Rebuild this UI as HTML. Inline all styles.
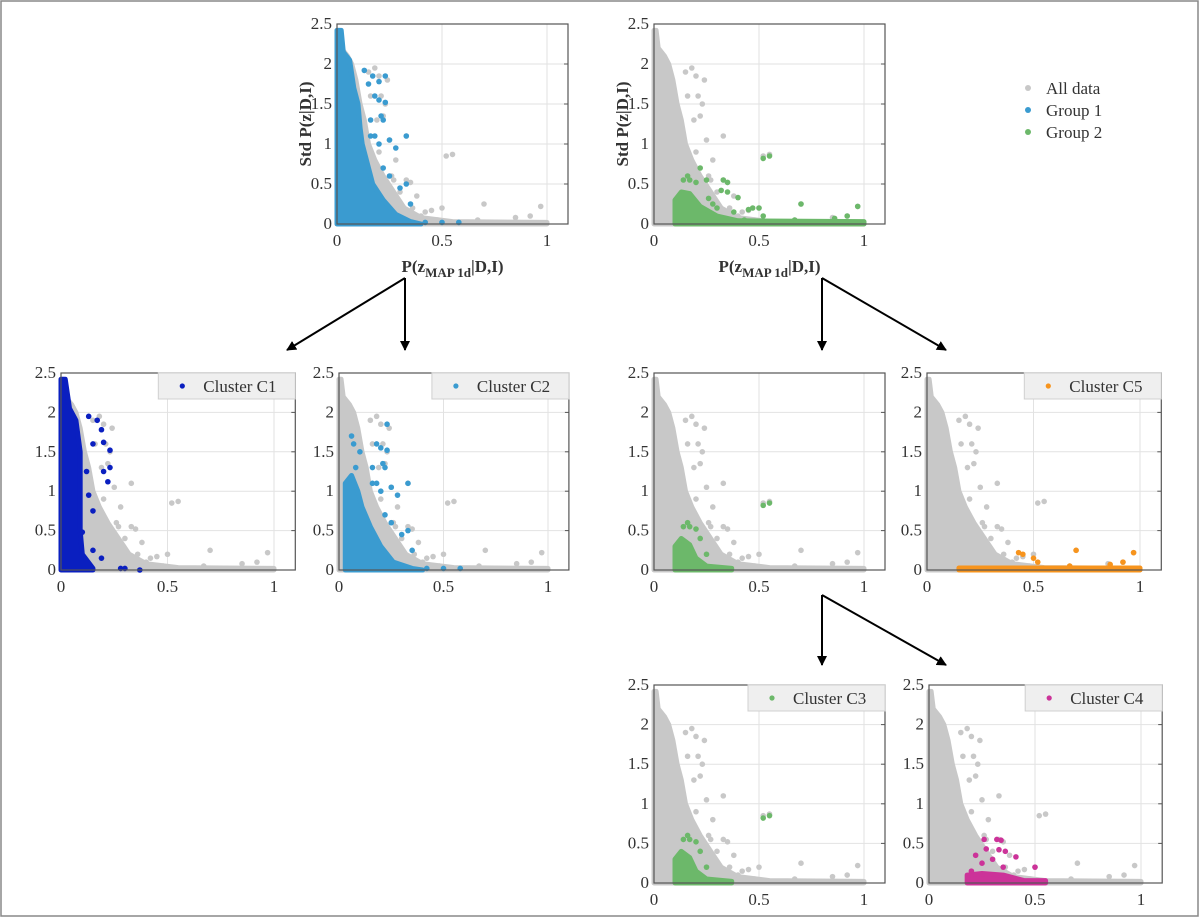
<!DOCTYPE html>
<html><head><meta charset="utf-8"><style>
body{margin:0;background:#fff}
svg{display:block}
text{font-family:"Liberation Serif",serif;fill:#333}
</style></head><body>
<svg id="fig" width="1200" height="918" viewBox="0 0 1200 918">
<rect x="1" y="1" width="1197" height="915" fill="#fff" stroke="#888" stroke-width="1.5"/>
<defs><marker id="ah" markerWidth="10" markerHeight="10" refX="9" refY="5" orient="auto" markerUnits="userSpaceOnUse"><path d="M0,0 L10,5 L0,10 Z" fill="#000"/></marker></defs>
<g stroke="#000" stroke-width="2" marker-end="url(#ah)">
<line x1="405" y1="278" x2="287" y2="350"/>
<line x1="405" y1="278" x2="405" y2="350"/>
<line x1="822" y1="278" x2="822" y2="350"/>
<line x1="822" y1="278" x2="946" y2="350"/>
<line x1="822" y1="595" x2="822" y2="665"/>
<line x1="822" y1="595" x2="946" y2="665"/>
</g>
<g>
<circle cx="1028" cy="88" r="3" fill="#c8c8c8"/><text x="1046" y="94" font-size="17">All data</text>
<circle cx="1028" cy="110" r="3" fill="#3a9bd0"/><text x="1046" y="116" font-size="17">Group 1</text>
<circle cx="1028" cy="132" r="3" fill="#6cb86a"/><text x="1046" y="138" font-size="17">Group 2</text>
</g>
</svg>
<script>
const xTicks=[0,0.5,1];
const yTicks=[0,0.5,1,1.5,2,2.5];
const xTickLabels=["0","0.5","1"];
const yTickLabels=["0","0.5","1","1.5","2","2.5"];
const allEnv=[[0,0],[0,2.42],[0.01,2.42],[0.02,2.2],[0.05,2.1],[0.07,2.0],[0.09,1.8],[0.11,1.5],[0.13,1.3],[0.15,1.0],[0.18,0.8],[0.22,0.6],[0.27,0.4],[0.32,0.2],[0.4,0.08],[0.55,0.03],[1,0.02],[1,0],[0,0]];
const allPts=[[0.52,0.85],[0.55,0.87],[0.7,0.25],[0.97,0.22],[0.85,0.08],[0.92,0.1],[0.67,0.05],[0.5,0.2],[0.45,0.17],[0.42,0.15],[0.36,0.2],[0.33,0.55],[0.35,0.52],[0.3,0.4],[0.27,0.55],[0.22,1.35],[0.23,1.5],[0.2,1.85],[0.18,1.95],[0.21,1.6],[0.25,1.05],[0.28,0.8],[0.33,1.1],[0.15,1.9],[0.24,1.8],[0.16,1.6],[0.19,1.3],[0.2,0.9],[0.26,0.6],[0.38,0.35],[0.4,0.1],[0.48,0.05],[0.3,0.25]];
const g1Env=[[0,0],[0,2.42],[0.02,2.42],[0.03,2.15],[0.06,2.05],[0.08,1.7],[0.1,1.5],[0.11,1.2],[0.12,1.0],[0.15,0.7],[0.17,0.5],[0.22,0.3],[0.28,0.12],[0.35,0.03],[0.4,0],[0,0]];
const g1Pts=[[0.13,1.92],[0.17,1.85],[0.2,1.78],[0.15,1.75],[0.23,1.85],[0.2,1.55],[0.23,1.52],[0.18,1.6],[0.21,1.35],[0.22,1.3],[0.16,1.3],[0.16,1.1],[0.18,1.1],[0.2,1.0],[0.25,1.05],[0.28,0.95],[0.33,1.1],[0.22,0.7],[0.25,0.6],[0.3,0.45],[0.33,0.5],[0.35,0.25],[0.42,0.02],[0.5,0.02],[0.58,0.02]];
const g2Env=[[0.1,0],[0.1,0.3],[0.13,0.4],[0.17,0.38],[0.22,0.22],[0.3,0.1],[0.4,0.04],[1,0.03],[1,0],[0.1,0]];
const g2Pts=[[0.52,0.82],[0.55,0.85],[0.22,0.7],[0.14,0.55],[0.16,0.6],[0.17,0.55],[0.2,0.52],[0.25,0.55],[0.33,0.55],[0.35,0.52],[0.32,0.42],[0.35,0.4],[0.4,0.33],[0.47,0.2],[0.45,0.18],[0.5,0.2],[0.52,0.1],[0.7,0.25],[0.97,0.22],[0.92,0.1],[0.86,0.07],[0.67,0.05],[0.3,0.2],[0.28,0.25],[0.26,0.32],[0.38,0.15],[0.43,0.05]];
const c1Env=[[0,0],[0,2.42],[0.02,2.42],[0.04,2.05],[0.07,1.9],[0.09,1.5],[0.09,0.5],[0.1,0.2],[0.15,0.02],[0.15,0],[0,0]];
const c1Pts=[[0.13,1.95],[0.17,1.9],[0.19,1.78],[0.15,1.6],[0.2,1.62],[0.23,1.52],[0.12,1.25],[0.2,1.25],[0.23,1.3],[0.22,1.12],[0.13,0.95],[0.15,0.75],[0.1,0.48],[0.15,0.25],[0.19,0.15],[0.28,0.02],[0.3,0.02],[0.37,0.0]];
const c2Env=[[0.03,0],[0.03,1.1],[0.06,1.2],[0.09,1.0],[0.11,0.8],[0.15,0.55],[0.2,0.3],[0.26,0.1],[0.35,0.02],[0.4,0],[0.03,0]];
const c2Pts=[[0.06,1.7],[0.07,1.6],[0.1,1.5],[0.08,1.3],[0.23,1.85],[0.2,1.55],[0.23,1.52],[0.18,1.6],[0.21,1.35],[0.22,1.3],[0.16,1.3],[0.16,1.1],[0.18,1.1],[0.2,1.0],[0.25,1.05],[0.28,0.95],[0.33,1.1],[0.22,0.7],[0.25,0.6],[0.3,0.45],[0.33,0.5],[0.35,0.25],[0.42,0.02],[0.5,0.02],[0.58,0.02]];
const c3Env=[[0.1,0],[0.1,0.3],[0.13,0.4],[0.17,0.32],[0.2,0.15],[0.25,0.05],[0.37,0.02],[0.37,0],[0.1,0]];
const c3Pts=[[0.52,0.82],[0.55,0.85],[0.14,0.55],[0.16,0.6],[0.17,0.55],[0.2,0.52],[0.22,0.4],[0.25,0.2]];
const c4Env=[[0.18,0],[0.18,0.1],[0.25,0.12],[0.35,0.1],[0.45,0.03],[0.55,0.03],[0.55,0],[0.18,0]];
const c4Pts=[[0.26,0.55],[0.32,0.55],[0.34,0.54],[0.33,0.42],[0.36,0.4],[0.27,0.43],[0.22,0.35],[0.41,0.33],[0.5,0.2],[0.3,0.3],[0.25,0.25],[0.35,0.2],[0.2,0.15]];
const c5Env=[[0.15,0],[0.15,0.025],[1,0.025],[1,0],[0.15,0]];
const c5Pts=[[0.45,0.2],[0.43,0.22],[0.52,0.1],[0.7,0.25],[0.97,0.22],[0.92,0.1],[0.86,0.07],[0.67,0.05],[0.5,0.15]];

const NS="http://www.w3.org/2000/svg";
const svg=document.getElementById('fig');
function mk(tag,attrs,parent){const e=document.createElementNS(NS,tag);for(const k in attrs)e.setAttribute(k,attrs[k]);parent.appendChild(e);return e;}

function panel(name,x0,x1,yb,yt,layers,legend,labels){
  const g=mk('g',{},svg);
  
  
  const sx=v=>x0+v*(x1-x0);
  const sy=v=>yb-v/2.5*(yb-yt);
  const right=sx(1.1);
  for(const t of xTicks){const l=mk('line',{x1:sx(t),x2:sx(t),y1:yt,y2:yb,stroke:'#e2e2e2','stroke-width':1},g);}
  for(const t of yTicks){const l=mk('line',{x1:x0,x2:right,y1:sy(t),y2:sy(t),stroke:'#e2e2e2','stroke-width':1},g);}
  for(const L of layers){
    const pg=mk('polygon',{points:L.env.map(p=>sx(p[0])+','+sy(p[1])).join(' '),fill:L.c,stroke:L.c,'stroke-width':5,'stroke-linejoin':'round'},g);
    
    
    for(const p of L.pts){const c=mk('circle',{cx:sx(p[0]),cy:sy(p[1]),r:2.8,fill:L.c},g);
      
      }
  }
  const b=mk('rect',{x:x0,y:yt,width:right-x0,height:yb-yt,fill:'none',stroke:'#555','stroke-width':1.2},g);
  
  
  xTicks.forEach((t,i)=>{const tx=mk('text',{x:sx(t),y:yb+22,'font-size':17,'text-anchor':'middle'},g);tx.textContent=xTickLabels[i];
    
    });
  yTicks.forEach((t,i)=>{const tx=mk('text',{x:x0-5,y:sy(t)+5,'font-size':17,'text-anchor':'end'},g);tx.textContent=yTickLabels[i];
    
    
    mk('line',{x1:right,x2:right-4,y1:sy(t),y2:sy(t),stroke:'#555'},g);});
  if(legend){
    const lg=mk('g',{},g);
    
    
    mk('rect',{x:right-137,y:yt,width:137,height:26,fill:'#efefef',stroke:'#d0d0d0'},lg);
    mk('circle',{cx:right-113,cy:yt+13,r:2.6,fill:legend.c},lg);
    const t=mk('text',{x:right-92,y:yt+19,'font-size':17},lg);t.textContent=legend.t;
  }
  if(labels){
    const xl=mk('text',{x:(x0+right)/2,y:yb+48,'font-size':17,'font-weight':'bold','text-anchor':'middle'},g);
    xl.innerHTML='P(z<tspan font-size="13" dy="5">MAP 1d</tspan><tspan dy="-5">|D,I)</tspan>';
    
    
    const yl=mk('text',{x:0,y:0,'font-size':17,'font-weight':'bold','text-anchor':'middle',transform:`translate(${x0-26},${(yt+yb)/2}) rotate(-90)`},g);
    yl.textContent='Std P(z|D,I)';
    
    
  }
}
const GR='#c8c8c8',BL='#3a9bd0',DB='#0a1fc0',GN='#6cb86a',MG='#cc3399',OR='#f7941d';
const all={n:'all-data',c:GR,env:allEnv,pts:allPts};
panel('panel-group1',337,547,224,24,[all,{n:'group1',c:BL,env:g1Env,pts:g1Pts}],null,true);
panel('panel-group2',654,864,224,24,[all,{n:'group2',c:GN,env:g2Env,pts:g2Pts}],null,true);
panel('panel-c1',61,274,570,373,[all,{n:'c1',c:DB,env:c1Env,pts:c1Pts}],{c:DB,t:'Cluster C1'},false);
panel('panel-c2',339,548,570,373,[all,{n:'c2',c:BL,env:c2Env,pts:c2Pts}],{c:BL,t:'Cluster C2'},false);
panel('panel-group2-sub',654,864,570,373,[all,{n:'group2',c:GN,env:c3Env,pts:c3Pts}],null,false);
panel('panel-c5',927,1140,570,373,[all,{n:'c5',c:OR,env:c5Env,pts:c5Pts}],{c:OR,t:'Cluster C5'},false);
panel('panel-c3',654,864,883,685,[all,{n:'c3',c:GN,env:c3Env,pts:c3Pts}],{c:GN,t:'Cluster C3'},false);
panel('panel-c4',929,1141,883,685,[all,{n:'c4',c:MG,env:c4Env,pts:c4Pts}],{c:MG,t:'Cluster C4'},false);
</script>
</body></html>
